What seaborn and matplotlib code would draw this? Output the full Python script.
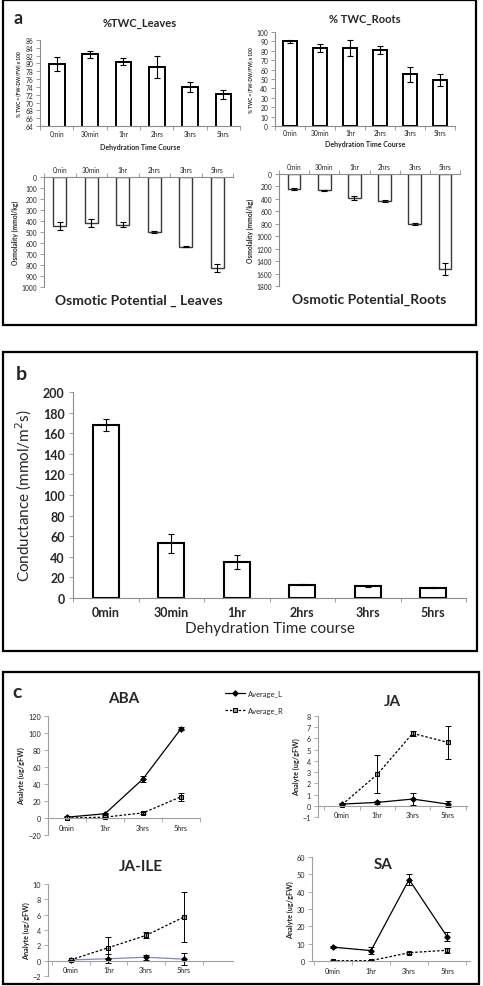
import numpy as np
import matplotlib
matplotlib.use('Agg')
import matplotlib.pyplot as plt
from matplotlib.patches import Rectangle
import seaborn as sns

# ---- data ----
times6 = ['0min', '30min', '1hr', '2hrs', '3hrs', '5hrs']
times4 = ['0min', '1hr', '3hrs', '5hrs']

twc_leaves = [79.8, 82.3, 80.5, 79.1, 73.9, 72.1]
twc_leaves_err = [1.8, 0.8, 0.8, 2.7, 1.3, 1.2]
twc_roots = [90, 83, 83, 81, 55, 49]
twc_roots_err = [2, 4.5, 9, 4.5, 8, 6.5]

osm_leaves = [445, 420, 432, 497, 635, 828]
osm_leaves_err = [35, 35, 20, 10, 5, 35]
osm_roots = [235, 265, 385, 430, 810, 1530]
osm_roots_err = [15, 15, 25, 15, 15, 100]

conductance = [168, 53, 35, 13, 11.5, 10]
conductance_err = [6, 9, 6.5, 0.5, 0.5, 0.3]

aba_L = [1, 5, 46, 105]
aba_L_err = [1, 1, 4, 2]
aba_R = [0, 1, 6, 25]
aba_R_err = [0.5, 0.5, 1, 5]

ja_L = [0.15, 0.3, 0.6, 0.15]
ja_L_err = [0.1, 0.1, 0.5, 0.25]
ja_R = [0.1, 2.8, 6.45, 5.65]
ja_R_err = [0.1, 1.7, 0.25, 1.5]

jaile_L = [0.1, 0.25, 0.45, 0.2]
jaile_L_err = [0.05, 0.6, 0.3, 0.8]
jaile_R = [0.1, 1.7, 3.3, 5.7]
jaile_R_err = [0.05, 1.4, 0.4, 3.3]

sa_L = [8, 6, 47, 14]
sa_L_err = [0.5, 2, 3, 2.5]
sa_R = [0.2, 0.2, 4.8, 6.2]
sa_R_err = [0.1, 0.1, 0.5, 1.5]

sns.set_style('white')
plt.rcParams['font.family'] = ['Lato', 'DejaVu Sans']

W, H = 483, 987
fig = plt.figure(figsize=(W / 100, H / 100), dpi=100)


def axes_px(x0, y0, x1, y1):
    return fig.add_axes([x0 / W, 1 - y1 / H, (x1 - x0) / W, (y1 - y0) / H])


def panel_box(x0, y0, x1, y1):
    fig.add_artist(Rectangle((x0 / W, 1 - y1 / H), (x1 - x0) / W, (y1 - y0) / H,
                             transform=fig.transFigure, fill=False, lw=1.6, ec='black'))


def excel_axes(ax, fs, gray='#8c8c8c', top=False):
    for s in ['right', 'top', 'bottom', 'left']:
        ax.spines[s].set_visible(False)
    ax.spines['left'].set_visible(True)
    ax.spines['left'].set_color(gray)
    ax.spines['left'].set_linewidth(0.8)
    xs = 'top' if top else 'bottom'
    ax.spines[xs].set_visible(True)
    ax.spines[xs].set_color(gray)
    ax.spines[xs].set_linewidth(0.8)
    ax.tick_params(axis='y', which='both', left=True, length=3, width=0.6, color=gray,
                   labelsize=fs, pad=2)
    ax.tick_params(axis='x', which='major', length=0, labelsize=fs, pad=3,
                   top=top, bottom=not top, labeltop=top, labelbottom=not top)
    ax.tick_params(axis='x', which='minor', length=3, width=0.6, color=gray,
                   top=top, bottom=not top)
    ax.set_facecolor('white')
    ax.grid(False)


def bar_chart(ax, vals, errs, ec, lw, width):
    sns.barplot(x=times6, y=vals, ax=ax, color='white', edgecolor=ec, linewidth=lw,
                width=width, saturation=1, errorbar=None)
    ax.errorbar(range(6), vals, yerr=errs, fmt='none', ecolor='black', elinewidth=0.8,
                capsize=2.5, capthick=0.8)
    ax.set_xlim(-0.5, 5.5)
    ax.set_xticks(np.arange(-0.5, 6, 1), minor=True)


# ---------------- panel a ----------------
panel_box(3, 1, 476, 326)
fig.text(14 / W, 1 - 18 / H, 'a', fontsize=13, fontweight='bold', va='center')

ax = axes_px(40, 41, 240, 127)
bar_chart(ax, twc_leaves, twc_leaves_err, 'black', 1.4, 0.47)
ax.set_ylim(64, 86)
ax.set_yticks(range(64, 87, 2))
excel_axes(ax, 4.8)
ax.set_title('%TWC_Leaves', fontsize=8, fontweight='bold', pad=10)
ax.set_xlabel('Dehydration Time Course', fontsize=5, fontweight='bold', labelpad=4)
ax.set_ylabel('% TWC = (FW-DW/FW) x 100', fontsize=3.5, fontweight='bold', labelpad=2)

ax = axes_px(275, 33, 455, 127)
bar_chart(ax, twc_roots, twc_roots_err, 'black', 1.4, 0.47)
ax.set_ylim(0, 100)
ax.set_yticks(range(0, 101, 10))
excel_axes(ax, 4.8)
ax.tick_params(axis='x', which='major', pad=2)
ax.set_title('% TWC_Roots', fontsize=8, fontweight='bold', pad=7)
ax.set_xlabel('Dehydration Time Course', fontsize=5, fontweight='bold', labelpad=3)
ax.set_ylabel('% TWC = (FW-DW/FW) x 100', fontsize=3.5, fontweight='bold', labelpad=2)

ax = axes_px(44, 178, 233, 288)
bar_chart(ax, osm_leaves, osm_leaves_err, '#3a3a3a', 1.0, 0.42)
ax.set_ylim(1000, 0)
ax.set_yticks(range(0, 1001, 100))
excel_axes(ax, 4.8, top=True)
ax.set_ylabel('Osmolality (mmol/kg)', fontsize=4.8, fontweight='bold', labelpad=2)
ax.set_xlabel('')
ax.text(0.5, -0.06, 'Osmotic Potential _ Leaves', transform=ax.transAxes, ha='center',
        va='top', fontsize=10, fontweight='bold')

ax = axes_px(279, 175, 460, 287)
bar_chart(ax, osm_roots, osm_roots_err, '#3a3a3a', 1.0, 0.42)
ax.set_ylim(1800, 0)
ax.set_yticks(range(0, 1801, 200))
excel_axes(ax, 4.8, top=True)
ax.set_ylabel('Osmolality (mmol/kg)', fontsize=4.8, fontweight='bold', labelpad=2)
ax.set_xlabel('')
ax.text(0.5, -0.06, 'Osmotic Potential_Roots', transform=ax.transAxes, ha='center',
        va='top', fontsize=10, fontweight='bold')

# ---------------- panel b ----------------
panel_box(3, 353, 477, 652)
fig.text(16 / W, 1 - 375 / H, 'b', fontsize=14, fontweight='bold', va='center')

ax = axes_px(73, 393, 466, 599)
bar_chart(ax, conductance, conductance_err, 'black', 1.5, 0.4)
ax.set_ylim(0, 200)
ax.set_yticks(range(0, 201, 20))
excel_axes(ax, 9)
ax.tick_params(axis='x', which='major', pad=6)
ax.tick_params(axis='y', which='major', pad=3)
ax.set_ylabel('Conductance (mmol/m$^2$s)', fontsize=11, labelpad=6)
ax.set_xlabel('Dehydration Time course', fontsize=11, labelpad=2)
for t in ax.get_xticklabels() + ax.get_yticklabels():
    t.set_fontweight('bold')

# ---------------- panel c ----------------
panel_box(3, 673, 479, 985)
fig.text(12 / W, 1 - 693 / H, 'c', fontsize=14, fontweight='bold', va='center')

x4 = np.arange(4)


def line_chart(ax, L, Le, R, Re, lcolor='black'):
    sns.lineplot(x=x4, y=L, ax=ax, color=lcolor, lw=0.9, marker='D', markersize=2.8,
                 markeredgecolor='black', markerfacecolor='black', label='Average_L', legend=False)
    sns.lineplot(x=x4, y=R, ax=ax, color='black', lw=0.9, linestyle=(0, (2, 1.5)), marker='s',
                 markersize=2.6, markeredgecolor='black', markerfacecolor='#999999',
                 label='Average_R', legend=False)
    ax.errorbar(x4, L, yerr=Le, fmt='none', ecolor='black', elinewidth=0.7, capsize=2, capthick=0.7)
    ax.errorbar(x4, R, yerr=Re, fmt='none', ecolor='black', elinewidth=0.7, capsize=2, capthick=0.7)
    ax.set_xticks(x4)
    ax.set_xticklabels(times4)
    ax.set_xticks(np.arange(-0.5, 4, 1), minor=True)
    excel_axes(ax, 5.2, gray='#a0a0a0')
    ax.spines['bottom'].set_position(('data', 0))
    ax.tick_params(axis='x', which='major', pad=4)
    ax.set_ylabel('Analyte (ug/gFW)', fontsize=5.2, fontweight='bold', labelpad=2)


ax_aba = axes_px(48, 717, 200, 836)
line_chart(ax_aba, aba_L, aba_L_err, aba_R, aba_R_err)
ax_aba.set_xlim(-0.5, 3.5)
ax_aba.set_ylim(-20, 120)
ax_aba.set_yticks(range(-20, 121, 20))
ax_aba.set_title('ABA', fontsize=11, fontweight='bold', pad=10)

handles, labels = ax_aba.get_legend_handles_labels()
fig.legend(handles, labels, loc='upper left', bbox_to_anchor=(218 / W, 1 - 684 / H),
           frameon=False, fontsize=5.5, handlelength=2.6, labelspacing=1.3, handletextpad=0.4)

ax = axes_px(318, 717, 467, 818)
line_chart(ax, ja_L, ja_L_err, ja_R, ja_R_err)
ax.set_xlim(-0.68, 3.54)
ax.set_ylim(-1, 8)
ax.set_yticks(range(-1, 9))
ax.set_title('JA', fontsize=11, fontweight='bold', pad=8)

ax = axes_px(48, 885, 233, 977)
line_chart(ax, jaile_L, jaile_L_err, jaile_R, jaile_R_err, lcolor='#8088c0')
ax.set_xlim(-0.6, 4.3)
ax.set_ylim(-2, 10)
ax.set_yticks(range(-2, 11, 2))
ax.set_title('JA-ILE', fontsize=11, fontweight='bold', pad=10)

ax = axes_px(312, 858, 470, 962)
line_chart(ax, sa_L, sa_L_err, sa_R, sa_R_err)
ax.set_xlim(-0.55, 3.6)
ax.set_ylim(0, 60)
ax.set_yticks(range(0, 61, 10))
ax.text(0.45, 0.93, 'SA', transform=ax.transAxes, ha='center', va='center',
        fontsize=11, fontweight='bold')

fig.savefig('out.png', dpi=100)
